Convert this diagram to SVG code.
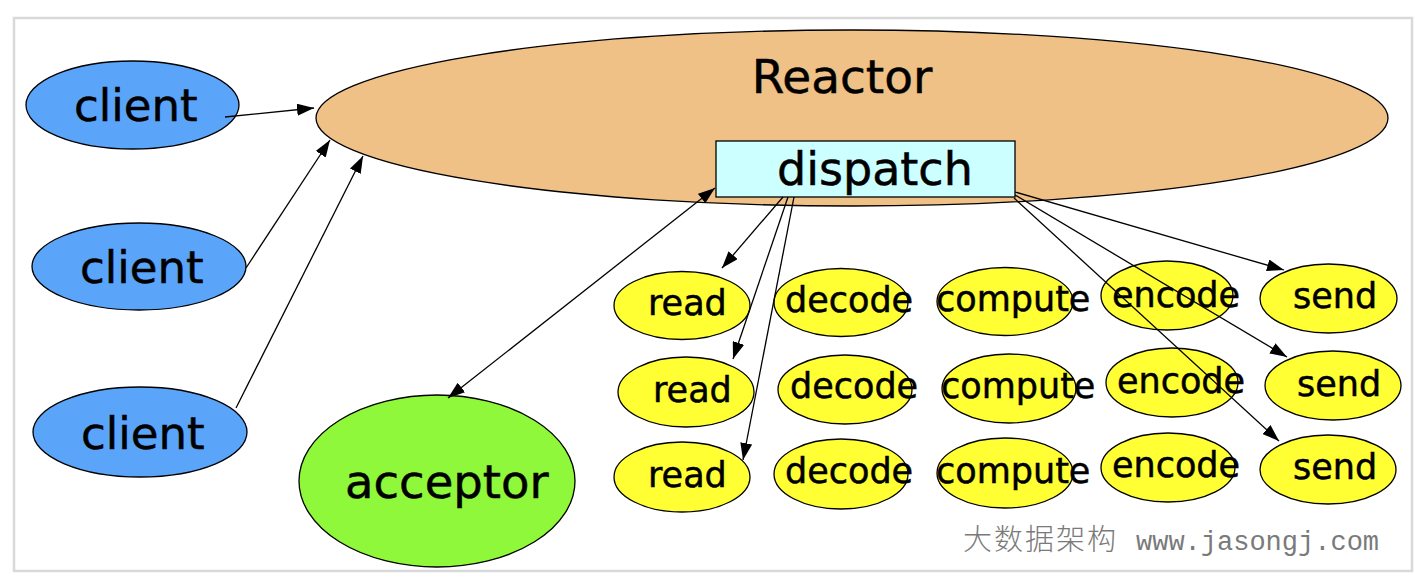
<svg xmlns="http://www.w3.org/2000/svg" width="1426" height="580" viewBox="0 0 1426 580">
<style>
.lbl{font-family:"DejaVu Sans","Noto Sans",sans-serif;fill:#000;stroke:#000;stroke-width:0.5}
.e{stroke:#000;stroke-width:1.3}
.client{fill:#5aa5fa}
.job{fill:#ffff33}
.c{stroke:#000;stroke-width:1.3;fill:none}
.s35{font-size:35px}
.s45{font-size:45px}
</style>
<defs>
<marker id="ah" viewBox="0 0 17 12" refX="17" refY="6" markerWidth="17" markerHeight="12" markerUnits="userSpaceOnUse" orient="auto-start-reverse">
<path d="M0,0 L17,6 L0,12 Z" fill="#000"/>
</marker>
</defs>
<rect x="0" y="0" width="1426" height="580" fill="#fff"/>
<rect x="14" y="18" width="1398" height="553" fill="#fff" stroke="#d9d9d9" stroke-width="2.5"/>

<g id="reactor">
<ellipse cx="852" cy="118" rx="536" ry="88" fill="#efc187" class="e"/>
<text x="842" y="93" class="lbl" font-size="47" text-anchor="middle">Reactor</text>
</g>
<g id="dispatch">
<rect x="716" y="141" width="299" height="56" fill="#ccffff" class="e"/>
<text x="777" y="185" class="lbl" font-size="46">dispatch</text>
</g>

<g id="client1">
<ellipse cx="132.5" cy="105" rx="106.5" ry="44" class="client e"/>
<text x="74" y="121" class="lbl s45">client</text>
</g>
<g id="client2">
<ellipse cx="139" cy="266.5" rx="107" ry="43.5" class="client e"/>
<text x="80" y="283" class="lbl s45">client</text>
</g>
<g id="client3">
<ellipse cx="140" cy="432" rx="107" ry="45" class="client e"/>
<text x="81" y="449" class="lbl s45">client</text>
</g>

<g id="acceptor">
<ellipse cx="437" cy="481" rx="138" ry="86" fill="#8ff83a" class="e"/>
<text x="345" y="498" class="lbl" font-size="46.5">acceptor</text>
</g>

<g id="read1"><ellipse cx="682" cy="305.5" rx="68" ry="34" class="job e"/><text x="648" y="315" class="lbl s35">read</text></g>
<g id="decode1"><ellipse cx="841" cy="302.5" rx="67" ry="34" class="job e"/><text x="785" y="312" class="lbl s35">decode</text></g>
<g id="compute1"><ellipse cx="1005" cy="301.5" rx="68" ry="34" class="job e"/><text x="936" y="311" class="lbl s35">compute</text></g>
<g id="encode1"><ellipse cx="1167" cy="295.5" rx="66" ry="34.5" class="job e"/><text x="1112" y="307" class="lbl s35">encode</text></g>
<g id="send1"><ellipse cx="1328.5" cy="298.5" rx="68.5" ry="34.5" class="job e"/><text x="1293" y="308" class="lbl s35">send</text></g>

<g id="read2"><ellipse cx="686" cy="392" rx="68" ry="35" class="job e"/><text x="653" y="402" class="lbl s35">read</text></g>
<g id="decode2"><ellipse cx="845" cy="389.5" rx="67" ry="34.5" class="job e"/><text x="790" y="398" class="lbl s35">decode</text></g>
<g id="compute2"><ellipse cx="1009" cy="388.5" rx="67" ry="34.5" class="job e"/><text x="941" y="398" class="lbl s35">compute</text></g>
<g id="encode2"><ellipse cx="1172" cy="382.5" rx="66" ry="34.5" class="job e"/><text x="1117" y="393" class="lbl s35">encode</text></g>
<g id="send2"><ellipse cx="1333" cy="385.5" rx="68" ry="34.5" class="job e"/><text x="1297" y="396" class="lbl s35">send</text></g>

<g id="read3"><ellipse cx="682" cy="477" rx="68" ry="35" class="job e"/><text x="648" y="487" class="lbl s35">read</text></g>
<g id="decode3"><ellipse cx="841" cy="474" rx="67" ry="35" class="job e"/><text x="785" y="483" class="lbl s35">decode</text></g>
<g id="compute3"><ellipse cx="1005" cy="473" rx="68" ry="35" class="job e"/><text x="936" y="483" class="lbl s35">compute</text></g>
<g id="encode3"><ellipse cx="1168" cy="467.5" rx="67" ry="34.5" class="job e"/><text x="1112" y="477" class="lbl s35">encode</text></g>
<g id="send3"><ellipse cx="1328" cy="469.5" rx="68" ry="34.5" class="job e"/><text x="1293" y="479" class="lbl s35">send</text></g>

<g id="connectors">
<line x1="225" y1="117" x2="314" y2="108" class="c" marker-end="url(#ah)"/>
<line x1="246" y1="268" x2="330" y2="140" class="c" marker-end="url(#ah)"/>
<line x1="236" y1="408" x2="363" y2="156" class="c" marker-end="url(#ah)"/>
<line x1="715" y1="188" x2="448" y2="398" class="c" marker-start="url(#ah)" marker-end="url(#ah)"/>
<line x1="783" y1="197" x2="722" y2="268" class="c" marker-end="url(#ah)"/>
<line x1="788" y1="197" x2="733" y2="359" class="c" marker-end="url(#ah)"/>
<line x1="794" y1="197" x2="743" y2="460" class="c" marker-end="url(#ah)"/>
<line x1="1015" y1="192" x2="1284" y2="270" class="c" marker-end="url(#ah)"/>
<line x1="1015" y1="195" x2="1287" y2="357" class="c" marker-end="url(#ah)"/>
<line x1="1014" y1="198" x2="1279" y2="441" class="c" marker-end="url(#ah)"/>
</g>

<g id="watermark" fill="#7a7a7a">
<text x="963" y="550" font-family="'Noto Sans CJK SC',sans-serif" font-size="29" font-weight="300" letter-spacing="2">大数据架构</text>
<text x="1136" y="550" font-family="'Liberation Mono',monospace" font-size="27">www.jasongj.com</text>
</g>
</svg>
